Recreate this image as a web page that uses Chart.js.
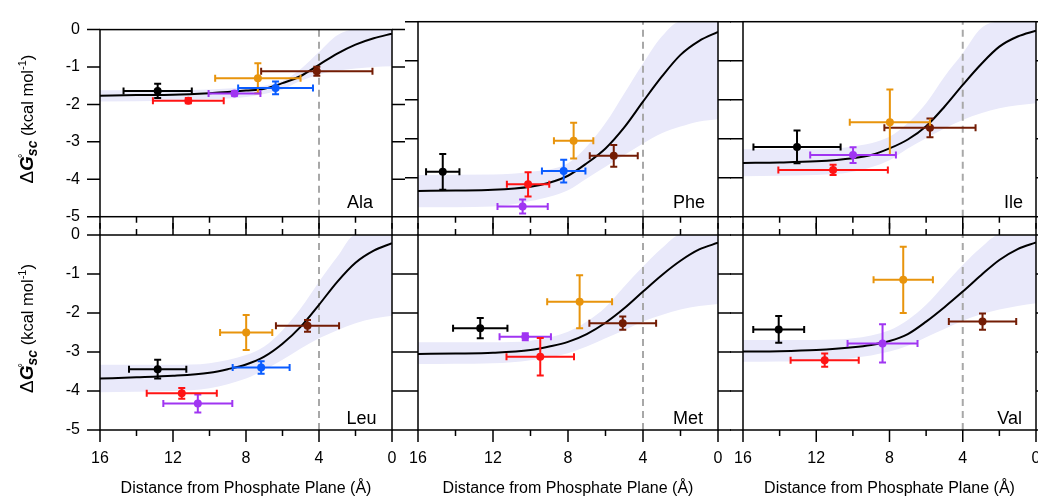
<!DOCTYPE html>
<html><head><meta charset="utf-8">
<script src="https://cdn.jsdelivr.net/npm/chart.js@4/dist/chart.umd.min.js"></script>
<style>
html,body{margin:0;padding:0;background:#fff;overflow:hidden;width:1038px;height:499px;position:relative;}
canvas{position:absolute;left:0;top:0;}
</style></head><body>
<script>
// ---------- data ----------
const seriesColors = ['#000000', '#FF1414', '#A035F2', '#0A5CFF', '#E8940C', '#731C04']; // black, red, purple, blue, orange, brown
const curveX = [16, 14, 12, 10, 9, 8, 7, 6, 5, 4, 3, 2, 1, 0];
const bandX = [16, 12, 10, 8, 7, 6, 5, 4, 3, 2, 1, 0];
const cutoffX = 4;
const xTickValues = [16, 14, 12, 10, 8, 6, 4, 2, 0];
const yTickValues = [0, -1, -2, -3, -4, -5];

// Ala
const alaX = [12.84, 11.16, 8.63, 6.38, 7.35, 4.12];
const alaY = [-1.64, -1.90, -1.71, -1.56, -1.30, -1.11];
const alaXErr = [1.87, 1.94, 1.42, 2.05, 2.34, 3.05];
const alaYErr = [0.19, 0.07, 0.06, 0.17, 0.40, 0.12];
const alaCurve = [-1.77, -1.75, -1.74, -1.70, -1.67, -1.63, -1.58, -1.43, -1.24, -0.94, -0.64, -0.40, -0.23, -0.11];
const alaUpper = [-1.62, -1.62, -1.60, -1.55, -1.50, -1.37, -1.05, -0.60, -0.15, 0, 0, 0];
const alaLower = [-1.92, -1.90, -1.87, -1.80, -1.72, -1.60, -1.37, -1.20, -1.10, -1.04, -1.00, -0.98];

// Phe
const pheX = [14.68, 10.13, 10.42, 8.23, 7.70, 5.56];
const pheY = [-3.85, -4.17, -4.74, -3.83, -3.05, -3.44];
const pheXErr = [0.89, 1.13, 1.34, 1.16, 1.05, 1.28];
const pheYErr = [0.46, 0.31, 0.18, 0.29, 0.46, 0.28];
const pheCurve = [-4.34, -4.33, -4.31, -4.23, -4.13, -3.95, -3.63, -3.25, -2.71, -2.05, -1.41, -0.85, -0.49, -0.26];
const pheUpper = [-3.93, -3.92, -3.85, -3.63, -3.20, -2.60, -1.84, -1.07, -0.38, 0, 0, 0];
const pheLower = [-4.76, -4.74, -4.60, -4.32, -4.02, -3.72, -3.42, -3.12, -2.86, -2.69, -2.56, -2.50];

// Ile
const ileX = [13.05, 11.08, 9.99, null, 7.98, 5.79];
const ileY = [-3.21, -3.80, -3.42, null, -2.58, -2.72];
const ileXErr = [2.38, 2.99, 2.34, null, 2.19, 2.49];
const ileYErr = [0.42, 0.13, 0.20, null, 0.84, 0.24];
const ileCurve = [-3.62, -3.61, -3.58, -3.50, -3.42, -3.25, -3.02, -2.68, -2.18, -1.62, -1.09, -0.64, -0.38, -0.23];
const ileUpper = [-3.27, -3.27, -3.20, -2.95, -2.60, -2.09, -1.41, -0.81, -0.17, 0, 0, 0];
const ileLower = [-3.96, -3.93, -3.85, -3.55, -3.25, -2.99, -2.74, -2.52, -2.35, -2.22, -2.14, -2.09];

// Leu
const leuX = [12.84, 11.52, 10.64, 7.17, 7.99, 4.63];
const leuY = [-3.44, -4.06, -4.32, -3.40, -2.50, -2.33];
const leuXErr = [1.57, 1.92, 1.89, 1.56, 1.43, 1.73];
const leuYErr = [0.24, 0.14, 0.23, 0.16, 0.45, 0.15];
const leuCurve = [-3.68, -3.65, -3.61, -3.53, -3.44, -3.32, -3.12, -2.79, -2.35, -1.79, -1.20, -0.71, -0.40, -0.21];
const leuUpper = [-3.33, -3.33, -3.29, -3.08, -2.86, -2.44, -1.88, -1.20, -0.56, 0, 0, 0];
const leuLower = [-4.03, -4.00, -3.93, -3.68, -3.46, -3.20, -2.91, -2.65, -2.44, -2.26, -2.14, -2.07];

// Met
const metX = [12.68, 9.48, 10.28, null, 7.38, 5.08];
const metY = [-2.39, -3.12, -2.61, null, -1.71, -2.26];
const metXErr = [1.45, 1.80, 1.37, null, 1.73, 1.78];
const metYErr = [0.26, 0.48, 0.09, null, 0.68, 0.17];
const metCurve = [-3.05, -3.04, -3.02, -2.95, -2.86, -2.74, -2.54, -2.25, -1.88, -1.45, -1.03, -0.66, -0.37, -0.20];
const metUpper = [-2.75, -2.75, -2.71, -2.48, -2.22, -1.85, -1.32, -0.81, -0.34, 0, 0, 0];
const metLower = [-3.31, -3.29, -3.21, -3.03, -2.86, -2.65, -2.44, -2.22, -2.05, -1.91, -1.82, -1.77];

// Val
const valX = [14.05, 11.54, 8.38, null, 7.25, 2.92];
const valY = [-2.42, -3.21, -2.78, null, -1.15, -2.22];
const valXErr = [1.39, 1.86, 1.91, null, 1.62, 1.84];
const valYErr = [0.34, 0.17, 0.49, null, 0.85, 0.21];
const valCurve = [-2.99, -2.98, -2.95, -2.88, -2.82, -2.72, -2.54, -2.22, -1.85, -1.45, -1.03, -0.64, -0.36, -0.19];
const valUpper = [-2.69, -2.69, -2.65, -2.44, -2.18, -1.79, -1.28, -0.77, -0.32, 0, 0, 0];
const valLower = [-3.25, -3.23, -3.16, -2.99, -2.84, -2.62, -2.41, -2.20, -2.03, -1.91, -1.82, -1.75];

// ---------- layout / style ----------
const FAM = '"Liberation Sans", Arial, Helvetica, sans-serif';
const CW = 1100, CH = 499;
const colLeft = [100, 418, 743], colRight = [392, 718, 1036];
const rowTop = [21.7, 235], rowBottom = [216.7, 430];
const bandColor = '#E9E9FA';

const panels = [
  {name: 'Ala', col: 0, row: 0, x: alaX, y: alaY, xe: alaXErr, ye: alaYErr, curve: alaCurve, up: alaUpper, lo: alaLower, inset: 19, base: 8.5},
  {name: 'Phe', col: 1, row: 0, x: pheX, y: pheY, xe: pheXErr, ye: pheYErr, curve: pheCurve, up: pheUpper, lo: pheLower, inset: 13, base: 8.5},
  {name: 'Ile', col: 2, row: 0, x: ileX, y: ileY, xe: ileXErr, ye: ileYErr, curve: ileCurve, up: ileUpper, lo: ileLower, inset: 13, base: 8.5},
  {name: 'Leu', col: 0, row: 1, x: leuX, y: leuY, xe: leuXErr, ye: leuYErr, curve: leuCurve, up: leuUpper, lo: leuLower, inset: 15.5, base: 6.5},
  {name: 'Met', col: 1, row: 1, x: metX, y: metY, xe: metXErr, ye: metYErr, curve: metCurve, up: metUpper, lo: metLower, inset: 15, base: 6.5},
  {name: 'Val', col: 2, row: 1, x: valX, y: valY, xe: valXErr, ye: valYErr, curve: valCurve, up: valUpper, lo: valLower, inset: 14, base: 6.5},
];

function drawYTitle(ctx, bx, cy) {
  const parts = [
    {t: 'Δ', f: `19px ${FAM}`, dy: 0},
    {t: 'G', f: `italic bold 19px ${FAM}`, dy: 0, deg: true},
    {t: 'sc', f: `italic bold 14px ${FAM}`, dy: 4},
    {t: ' (kcal mol', f: `16.5px ${FAM}`, dy: 0},
    {t: '-1', f: `11px ${FAM}`, dy: -7},
    {t: ')', f: `16.5px ${FAM}`, dy: 0},
  ];
  ctx.save();
  let total = 0;
  parts.forEach(p => { ctx.font = p.f; p.w = ctx.measureText(p.t).width; total += p.w; });
  ctx.translate(bx, cy);
  ctx.rotate(-Math.PI / 2);
  ctx.fillStyle = '#000';
  ctx.textBaseline = 'alphabetic';
  ctx.textAlign = 'left';
  let cx = -total / 2;
  parts.forEach(p => {
    ctx.font = p.f;
    ctx.fillText(p.t, cx, p.dy);
    if (p.deg) {
      ctx.font = `12px ${FAM}`;
      ctx.fillText('°', cx + p.w * 0.85, -6);
    }
    cx += p.w;
  });
  ctx.restore();
}

const framePlugin = {
  id: 'frame',
  afterDraw(chart, args, o) {
    const {ctx, chartArea: a, scales: {x, y}} = chart;
    ctx.save();
    ctx.strokeStyle = '#000';
    ctx.lineWidth = 1.5;
    ctx.strokeRect(a.left, a.top, a.right - a.left, a.bottom - a.top);
    ctx.beginPath();
    yTickValues.forEach(v => {
      const py = y.getPixelForValue(v);
      ctx.moveTo(a.left - 13, py); ctx.lineTo(a.left, py);
      ctx.moveTo(a.right, py); ctx.lineTo(a.right + 13, py);
    });
    xTickValues.forEach(v => {
      const px = x.getPixelForValue(v);
      const len = v % 4 === 0 ? 12 : 6;
      ctx.moveTo(px, a.bottom); ctx.lineTo(px, a.bottom + len);
      if (o.topTicks) { ctx.moveTo(px, a.top); ctx.lineTo(px, a.top - len); }
    });
    ctx.stroke();
    ctx.fillStyle = '#000';
    ctx.font = `18px ${FAM}`;
    ctx.textAlign = 'right';
    ctx.textBaseline = 'alphabetic';
    ctx.fillText(o.name, a.right - o.inset, a.bottom - o.base);
    if (o.yTitle) drawYTitle(ctx, 33, (a.top + a.bottom) / 2 - 4);
    ctx.restore();
  }
};

const errPlugin = {
  id: 'errbars',
  beforeDatasetDraw(chart, args) {
    const ds = chart.data.datasets[args.index];
    if (!ds.errorBars) return;
    const {ctx, scales: {x, y}} = chart;
    const cap = 3.5;
    ctx.save();
    ctx.strokeStyle = ds.borderColor;
    ctx.lineWidth = 2;
    ds.data.forEach(d => {
      const px = x.getPixelForValue(d.x), py = y.getPixelForValue(d.y);
      const x1 = x.getPixelForValue(d.x - d.xErr), x2 = x.getPixelForValue(d.x + d.xErr);
      const y1 = y.getPixelForValue(d.y - d.yErr), y2 = y.getPixelForValue(d.y + d.yErr);
      ctx.beginPath();
      ctx.moveTo(x1, py); ctx.lineTo(x2, py);
      ctx.moveTo(x1, py - cap); ctx.lineTo(x1, py + cap);
      ctx.moveTo(x2, py - cap); ctx.lineTo(x2, py + cap);
      ctx.moveTo(px, y1); ctx.lineTo(px, y2);
      ctx.moveTo(px - cap, y1); ctx.lineTo(px + cap, y1);
      ctx.moveTo(px - cap, y2); ctx.lineTo(px + cap, y2);
      ctx.stroke();
    });
    ctx.restore();
  }
};

panels.forEach(p => {
  const L = colLeft[p.col], R = colRight[p.col], T = rowTop[p.row], B = rowBottom[p.row];
  const showY = p.col === 0, showX = p.row === 1;
  const cv = document.createElement('canvas');
  cv.width = CW; cv.height = CH;
  cv.style.width = CW + 'px'; cv.style.height = CH + 'px';
  document.body.appendChild(cv);

  const datasets = [];
  seriesColors.forEach((c, i) => {
    if (p.x[i] == null) return;
    datasets.push({
      type: 'scatter',
      data: [{x: p.x[i], y: p.y[i], xErr: p.xe[i], yErr: p.ye[i]}],
      backgroundColor: c, borderColor: c, pointRadius: 4, pointBorderWidth: 0,
      errorBars: true
    });
  });
  datasets.push({
    type: 'line', data: curveX.map((x, i) => ({x, y: p.curve[i]})),
    borderColor: '#000', borderWidth: 2, pointRadius: 0, cubicInterpolationMode: 'monotone', fill: false
  });
  datasets.push({
    type: 'line', data: [{x: cutoffX, y: -5}, {x: cutoffX, y: 0}],
    borderColor: '#A8A8A8', borderWidth: 2, borderDash: [7, 5], pointRadius: 0, fill: false
  });
  datasets.push({
    type: 'line', data: bandX.map((x, i) => ({x, y: p.up[i]})),
    borderColor: 'rgba(0,0,0,0)', borderWidth: 0, pointRadius: 0, cubicInterpolationMode: 'monotone',
    fill: '+1', backgroundColor: bandColor
  });
  datasets.push({
    type: 'line', data: bandX.map((x, i) => ({x, y: p.lo[i]})),
    borderColor: 'rgba(0,0,0,0)', borderWidth: 0, pointRadius: 0, cubicInterpolationMode: 'monotone', fill: false
  });

  const xScale = {
    type: 'linear', min: 0, max: 16, reverse: true, display: showX,
    grid: {display: false, drawTicks: false}, border: {display: false},
    ticks: {stepSize: 4, font: {size: 16, family: FAM}, color: '#000', padding: 19, maxRotation: 0, autoSkip: false},
    title: {display: true, text: 'Distance from Phosphate Plane (Å)', font: {size: 16, family: FAM}, color: '#000', padding: {top: 0, bottom: 1}}
  };
  if (showX) xScale.afterFit = s => { s.height = CH - B; };
  const yScale = {
    type: 'linear', min: -5, max: 0, display: showY,
    grid: {display: false, drawTicks: false}, border: {display: false},
    ticks: {stepSize: 1, font: {size: 16, family: FAM}, color: '#000', padding: 20}
  };
  if (showY) yScale.afterFit = s => { s.width = L; };

  new Chart(cv, {
    type: 'scatter',
    data: {datasets},
    plugins: [framePlugin, errPlugin],
    options: {
      responsive: false, animation: false, devicePixelRatio: 1, events: [],
      layout: {padding: {left: showY ? 0 : L, right: CW - R, top: T, bottom: showX ? 0 : CH - B}},
      plugins: {
        legend: {display: false}, tooltip: {enabled: false},
        frame: {name: p.name, inset: p.inset, base: p.base, topTicks: p.row === 1, yTitle: showY}
      },
      scales: {x: xScale, y: yScale}
    }
  });
});
</script>
</body></html>
